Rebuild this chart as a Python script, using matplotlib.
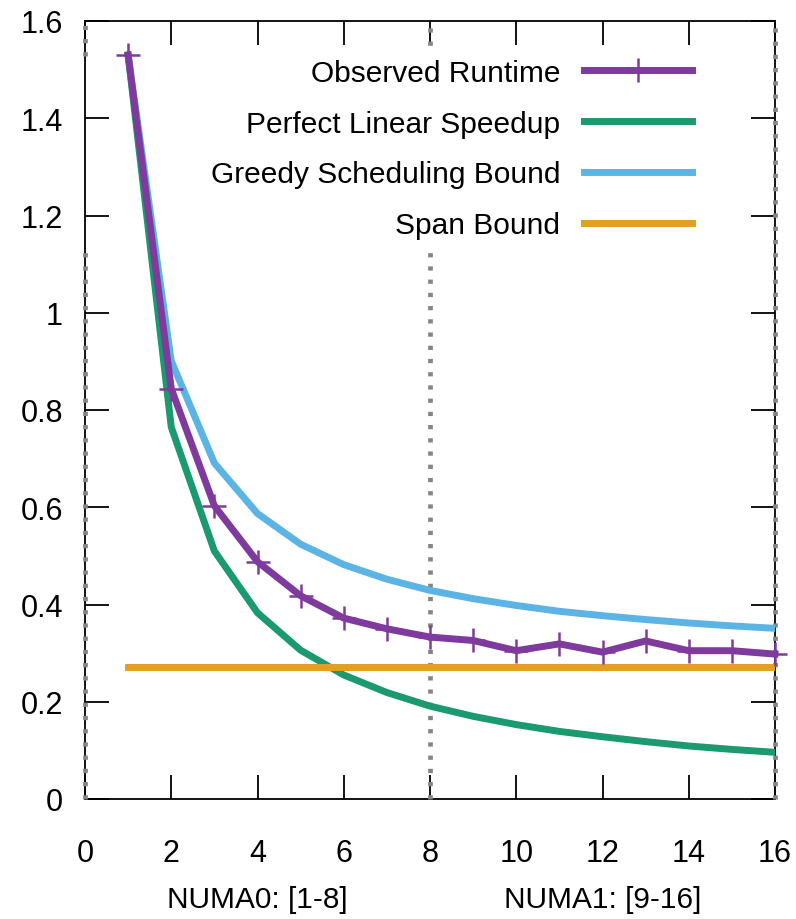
import numpy as np
import matplotlib
matplotlib.use('Agg')
import matplotlib.pyplot as plt

plt.rcParams['font.family'] = ['Liberation Sans', 'DejaVu Sans']

# Data
cores = [1, 2, 3, 4, 5, 6, 7, 8, 9, 10, 11, 12, 13, 14, 15, 16]
observed = [1.53, 0.844, 0.603, 0.488, 0.418, 0.372, 0.35, 0.333, 0.326,
            0.305, 0.319, 0.302, 0.325, 0.305, 0.305, 0.298]
linear = [1.53, 0.765, 0.51, 0.383, 0.306, 0.255, 0.219, 0.191, 0.17,
          0.153, 0.139, 0.128, 0.118, 0.109, 0.102, 0.096]
greedy = [1.53, 0.901, 0.691, 0.587, 0.524, 0.482, 0.452, 0.429, 0.412,
          0.398, 0.386, 0.377, 0.369, 0.362, 0.356, 0.351]
span = [0.272] * 16
xticks = [0, 2, 4, 6, 8, 10, 12, 14, 16]
yticks = [0, 0.2, 0.4, 0.6, 0.8, 1.0, 1.2, 1.4, 1.6]
ytick_labels = ['0', '0.2', '0.4', '0.6', '0.8', '1', '1.2', '1.4', '1.6']
numa_labels = ['NUMA0: [1-8]', 'NUMA1: [9-16]']
numa_pos = [4, 12]

fig = plt.figure(figsize=(7.96, 9.2), dpi=100)
ax = fig.add_axes([85 / 796, 120 / 920, 690 / 796, 778 / 920])

lw = 5
ax.plot(cores, linear, color='#1a9a6e', lw=lw, label='Perfect Linear Speedup', zorder=3)
ax.plot(cores, greedy, color='#5cb4e4', lw=lw, label='Greedy Scheduling Bound', zorder=3)
ax.plot(cores, span, color='#e49f1e', lw=lw, label='Span Bound', zorder=3)
ax.plot(cores, observed, color='#7e3a9c', lw=lw, marker='+', ms=17, mew=1.8,
        label='Observed Runtime', zorder=4, clip_on=False)

# NUMA boundary dotted lines
dot = dict(color='#858585', lw=3.4, dashes=(0.9, 1.9), zorder=2.5, clip_on=False)
ax.axvline(8, **dot)
ax.axvline(16, **dot)
ax.axvline(0, ymin=0, ymax=0.706, **dot)
ax.axvline(0, ymin=0.955, ymax=1.0, **dot)

ax.set_xlim(0, 16)
ax.set_ylim(0, 1.6)
ax.set_xticks(xticks)
ax.set_yticks(yticks)
ax.set_yticklabels(ytick_labels)
ax.tick_params(direction='in', length=17, width=1.3, labelsize=22,
               top=True, right=True, colors='black')
ax.tick_params(axis='x', pad=28)
ax.tick_params(axis='y', pad=16)
for s in ax.spines.values():
    s.set_linewidth(1.3)
    s.set_zorder(2)

for lab, xp in zip(numa_labels, numa_pos):
    ax.text(xp, -0.1285, lab, transform=ax.get_xaxis_transform(),
            ha='center', va='center', fontsize=21.5)

h, l = ax.get_legend_handles_labels()
order = [3, 0, 1, 2]
leg = ax.legend([h[i] for i in order], [l[i] for i in order],
                loc='upper right', bbox_to_anchor=(0.888, 0.959),
                markerfirst=False, numpoints=1, fontsize=21.5,
                handlelength=3.6, handletextpad=0.8, labelspacing=0.76,
                borderpad=0.2, borderaxespad=0, frameon=True,
                facecolor='white', edgecolor='white', framealpha=1,
                fancybox=False)
leg.set_zorder(5)

fig.savefig('out.png', dpi=100)
